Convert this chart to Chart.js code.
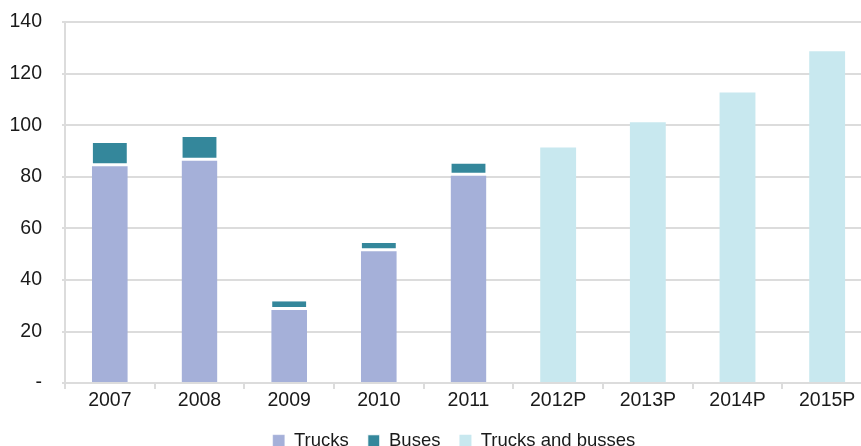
<!DOCTYPE html>
<html>
<head>
<meta charset="utf-8">
<script src="https://cdn.jsdelivr.net/npm/chart.js@4/dist/chart.umd.min.js"></script>
<style>
  html, body { margin: 0; padding: 0; background: #fff; overflow: hidden; }
  #wrap { width: 872px; height: 446px; }
</style>
</head>
<body>
<div id="wrap"><canvas id="chart"></canvas></div>
<script>
const years = ['2007', '2008', '2009', '2010', '2011', '2012P', '2013P', '2014P', '2015P'];
const trucks = [84.5, 86.6, 28.7, 51.5, 80.8, null, null, null, null];
const buses = [8.6, 8.8, 3.0, 2.8, 4.3, null, null, null, null];
const projected = [null, null, null, null, null, 91.3, 101.1, 112.7, 128.7];

const gridGrey = '#dcdcdc';
const fontFamily = 'Liberation Sans, Arial, sans-serif';

// nudge the legend to the right, as in the original
const legendShift = {
  id: 'legendShift',
  afterLayout(chart) {
    if (chart.legend) { chart.legend.left += 18; chart.legend.right += 18; }
  }
};

new Chart(document.getElementById('chart').getContext('2d'), {
  type: 'bar',
  data: {
    labels: years,
    datasets: [
      { label: 'Trucks', data: trucks, backgroundColor: '#a5b0d9', borderColor: '#ffffff', borderWidth: { top: 1, left: 0, right: 0, bottom: 0 }, borderSkipped: false },
      { label: 'Buses', data: buses, backgroundColor: '#34879b', borderColor: '#ffffff', borderWidth: { top: 0, left: 1, right: 1, bottom: 2 }, borderSkipped: false },
      { label: 'Trucks and busses', data: projected, backgroundColor: '#c8e8ef', borderWidth: 0 }
    ]
  },
  plugins: [legendShift],
  options: {
    responsive: true,
    maintainAspectRatio: false,
    animation: false,
    layout: { padding: { top: 22, right: 0, left: 0, bottom: -14 } },
    datasets: { bar: { barPercentage: 0.4, categoryPercentage: 1 } },
    plugins: {
      tooltip: { enabled: false },
      legend: {
        position: 'bottom',
        labels: {
          boxWidth: 12, boxHeight: 12, padding: 19,
          color: '#1a1a1a',
          font: { family: fontFamily, size: 18.5 }
        }
      }
    },
    scales: {
      x: {
        stacked: true,
        offset: true,
        grid: { offset: true, drawOnChartArea: false, color: gridGrey, lineWidth: 2, tickLength: 6 },
        border: { color: gridGrey, width: 2 },
        ticks: { color: '#1a1a1a', padding: 0, font: { family: fontFamily, size: 19.5 } }
      },
      y: {
        stacked: true,
        min: 0,
        max: 140,
        afterFit: (s) => { s.width = 65; s.paddingTop = 0; },
        grid: { color: gridGrey, lineWidth: 2, tickLength: 3 },
        border: { color: gridGrey, width: 2 },
        ticks: {
          stepSize: 20,
          color: '#1a1a1a',
          padding: 20,
          font: { family: fontFamily, size: 19.5 },
          callback: (v) => v === 0 ? '-' : v
        }
      }
    }
  }
});
</script>
</body>
</html>
